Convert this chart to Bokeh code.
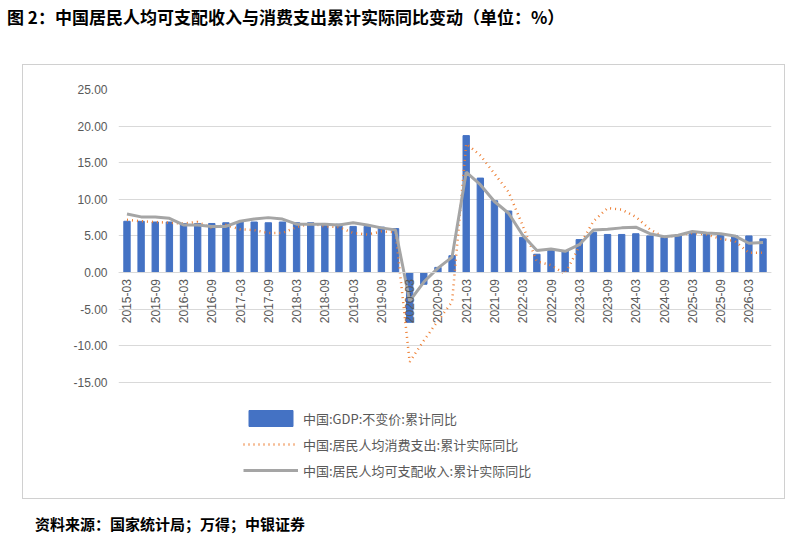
import math
from bokeh.plotting import figure
from bokeh.models import Legend, LegendItem, FixedTicker, NumeralTickFormatter, Div, Range1d, ColumnDataSource, Span
from bokeh.core.properties import value
from bokeh.layouts import column
from bokeh.embed import file_html
from bokeh.resources import INLINE

quarters = [f"{y}-{m}" for y in range(2015, 2027) for m in ("03", "06", "09", "12")][:46]
gdp = [7.0,7.0,6.9,6.9, 6.7,6.7,6.7,6.8, 6.9,6.9,6.8,6.9, 6.8,6.8,6.7,6.6, 6.3,6.3,6.2,6.0,
       -6.8,-1.6,0.7,2.3, 18.7,12.9,9.8,8.4, 4.8,2.5,3.0,3.0, 4.5,5.5,5.2,5.2,
       5.3,5.0,4.8,5.0, 5.4,5.3,5.2,5.0, 5.0,4.6]
spend = [7.2,7.0,6.9,6.8, 6.7,6.9,6.1,6.5, 5.9,5.8,5.4,5.4, 6.2,6.7,6.3,6.2, 5.4,5.2,5.6,5.5,
         -12.2,-9.3,-6.6,-4.0, 17.6,16.0,13.5,11.0, 6.4,1.5,1.0,-0.2, 3.6,7.0,8.8,8.6,
         7.6,5.9,4.8,5.1, 5.4,5.2,4.6,4.3, 2.7,2.7]
income = [8.0,7.6,7.6,7.4, 6.5,6.5,6.3,6.3, 7.0,7.3,7.5,7.3, 6.6,6.6,6.6,6.5, 6.8,6.5,6.1,5.8,
          -3.9,-1.3,0.6,2.1, 13.7,12.0,9.7,8.1, 5.1,3.0,3.2,2.9, 3.8,5.8,5.9,6.1,
          6.2,5.3,4.9,5.1, 5.6,5.4,5.3,5.0, 4.0,4.1]
x = list(range(len(quarters)))
src = ColumnDataSource(dict(x=x, gdp=gdp, spend=spend, income=income))
lab_x = list(range(0, 46, 2))
lab_src = ColumnDataSource(dict(x=lab_x, y=[-0.9] * len(lab_x), t=[quarters[k] for k in lab_x]))

font = "Noto Sans CJK SC"
title = Div(text="图 2：中国居民人均可支配收入与消费支出累计实际同比变动（单位：%）", width=793, height=54,
            styles={"font-family": font, "font-weight": "bold", "font-size": "17px", "color": "#000", "padding-left": "2px"})
p = figure(width=763, height=435, output_backend="svg", toolbar_location=None,
           x_range=Range1d(-0.6, 45.6), y_range=Range1d(-29.5, 25),
           min_border_left=95, min_border_right=15, min_border_top=24, min_border_bottom=12)
p.styles = {"border": "1px solid #d0d0d0", "margin-left": "22px"}
p.outline_line_color = None
p.xgrid.grid_line_color = None
p.ygrid.grid_line_color = "#d9d9d9"
p.yaxis.ticker = FixedTicker(ticks=[-15, -10, -5, 0, 5, 10, 15, 20, 25])
p.yaxis.formatter = NumeralTickFormatter(format="0.00")
p.yaxis.axis_line_color = None
p.yaxis.major_tick_line_color = None
p.yaxis.minor_tick_line_color = None
p.yaxis.major_label_text_color = "#595959"
p.yaxis.major_label_text_font = "Liberation Sans"
p.yaxis.major_label_text_font_size = "12px"
p.xaxis.visible = False
p.add_layout(Span(location=0, dimension="width", line_color="#d9d9d9", line_width=1))

b = p.vbar(x="x", top="gdp", width=0.45, source=src, color="#4472c4")
s = p.line(x="x", y="spend", source=src, line_color="#ed7d31", line_width=2.5, line_dash="1 4")
i = p.line(x="x", y="income", source=src, line_color="#a5a5a5", line_width=3)
p.text(x="x", y="y", text="t", source=lab_src, angle=math.pi / 2, text_align="right", text_baseline="middle",
       text_font=value("Liberation Sans"), text_font_size="12px", text_color="#595959")
leg = Legend(items=[LegendItem(label="中国:GDP:不变价:累计同比", renderers=[b]),
                    LegendItem(label="中国:居民人均消费支出:累计实际同比", renderers=[s]),
                    LegendItem(label="中国:居民人均可支配收入:累计实际同比", renderers=[i])],
             location=(125, 8), border_line_color=None, background_fill_alpha=0,
             label_text_font=font, label_text_font_size="13px", label_text_color="#595959",
             glyph_width=55, spacing=6, padding=0)
p.add_layout(leg, "center")
foot = Div(text="资料来源：国家统计局；万得；中银证券", width=793, height=36,
           styles={"font-family": font, "font-weight": "bold", "font-size": "15px", "padding-left": "30px", "margin-top": "14px"})
open("out.html", "w").write(file_html(column(title, p, foot), INLINE))
